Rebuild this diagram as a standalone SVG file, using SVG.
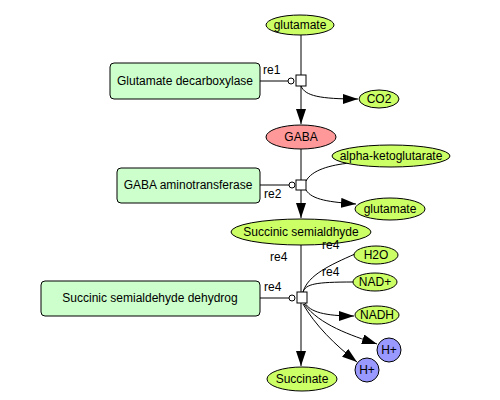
<svg xmlns="http://www.w3.org/2000/svg" width="500" height="400" viewBox="0 0 500 400">
<style>
text{font-family:"Liberation Sans",Arial,sans-serif;font-size:12px;fill:#000}
.c{text-anchor:middle}
.sp{fill:#ccff66;stroke:#000;stroke-width:1}
.gaba{fill:#ff9999;stroke:#000;stroke-width:1}
.h{fill:#9999ff;stroke:#000;stroke-width:1}
.enz{fill:#ccffcc;stroke:#000;stroke-width:1}
.ln{fill:none;stroke:#000;stroke-width:1}
.rx{fill:#fff;stroke:#000;stroke-width:1}
</style>
<defs>
<marker id="ah" markerUnits="userSpaceOnUse" markerWidth="15" markerHeight="10" refX="15" refY="5" orient="auto">
<path d="M0,0 L15,5 L0,10 z" fill="#000"/>
</marker>
</defs>
<rect width="500" height="400" fill="#fff"/>
<g id="connectors">
<path class="ln" d="M301,35 L301,75"/>
<path class="ln" d="M301,86 L301,124" marker-end="url(#ah)"/>
<path class="ln" d="M301,86 C305,96 320,99 358,99" marker-end="url(#ah)"/>
<path class="ln" d="M260,81 L288,81"/>
<circle class="rx" cx="291" cy="81" r="3"/>
<path class="ln" d="M301,149 L301,180"/>
<path class="ln" d="M301,190 L301,218" marker-end="url(#ah)"/>
<path class="ln" d="M306,181 C312,170 330,165 350,163"/>
<path class="ln" d="M306,190 C312,200 330,202 356,204" marker-end="url(#ah)"/>
<path class="ln" d="M260,185 L289,185"/>
<circle class="rx" cx="292" cy="185" r="3"/>
<path class="ln" d="M301,245 L301,292"/>
<path class="ln" d="M301,303 L301,366" marker-end="url(#ah)"/>
<path class="ln" d="M303,292 C308,275 330,265 355,254"/>
<path class="ln" d="M303,292 C306,284 315,282 353,282"/>
<path class="ln" d="M305,303 C310,312 325,316 354,316" marker-end="url(#ah)"/>
<path class="ln" d="M304,304 C320,325 350,335 377,344" marker-end="url(#ah)"/>
<path class="ln" d="M303,304 C315,325 335,345 357,362" marker-end="url(#ah)"/>
<path class="ln" d="M260,298 L289,298"/>
<circle class="rx" cx="292" cy="298" r="3"/>
<rect class="rx" x="296" y="75" width="10" height="11"/>
<rect class="rx" x="296" y="180" width="10" height="10"/>
<rect class="rx" x="297" y="292" width="10" height="11"/>
<text x="263" y="74">re1</text>
<text x="264" y="198">re2</text>
<text x="270" y="261">re4</text>
<text x="322" y="276">re4</text>
<text x="264" y="291">re4</text>
</g>
<g id="glutamate1"><ellipse class="sp" cx="300" cy="25" rx="34" ry="10"/><text class="c" x="300" y="29">glutamate</text></g>
<g id="gad"><rect class="enz" x="110" y="63" width="150" height="36" rx="4"/><text class="c" x="185" y="85">Glutamate decarboxylase</text></g>
<g id="co2"><ellipse class="sp" cx="379" cy="99" rx="20" ry="9"/><text class="c" x="379" y="103">CO2</text></g>
<g id="gaba"><ellipse class="gaba" cx="301" cy="137" rx="35" ry="12"/><text class="c" x="301" y="141">GABA</text></g>
<g id="gabat"><rect class="enz" x="117" y="168" width="143" height="35" rx="4"/><text class="c" x="188" y="189">GABA aminotransferase</text></g>
<g id="akg"><ellipse class="sp" cx="391" cy="156" rx="59" ry="11"/><text class="c" x="391" y="160">alpha-ketoglutarate</text></g>
<g id="glutamate2"><ellipse class="sp" cx="390" cy="209" rx="35" ry="11"/><text class="c" x="390" y="213">glutamate</text></g>
<g id="ssa"><ellipse class="sp" cx="301" cy="232" rx="70" ry="13"/><text class="c" x="301" y="236">Succinic semialdhyde</text></g>
<text x="322" y="249">re4</text>
<g id="ssadh"><rect class="enz" x="41" y="281" width="219" height="35" rx="4"/><text class="c" x="150" y="302">Succinic semialdehyde dehydrog</text></g>
<g id="h2o"><ellipse class="sp" cx="376" cy="255" rx="22" ry="9"/><text class="c" x="376" y="259">H2O</text></g>
<g id="nad"><ellipse class="sp" cx="375" cy="282" rx="22" ry="9"/><text class="c" x="375" y="286">NAD+</text></g>
<g id="nadh"><ellipse class="sp" cx="377" cy="315" rx="22" ry="9"/><text class="c" x="377" y="319">NADH</text></g>
<g id="h1"><circle class="h" cx="389" cy="350" r="12"/><text class="c" x="389" y="354">H+</text></g>
<g id="h2"><circle class="h" cx="367" cy="370" r="12"/><text class="c" x="367" y="374">H+</text></g>
<g id="succinate"><ellipse class="sp" cx="302" cy="379" rx="35" ry="12"/><text class="c" x="302" y="383">Succinate</text></g>
</svg>
